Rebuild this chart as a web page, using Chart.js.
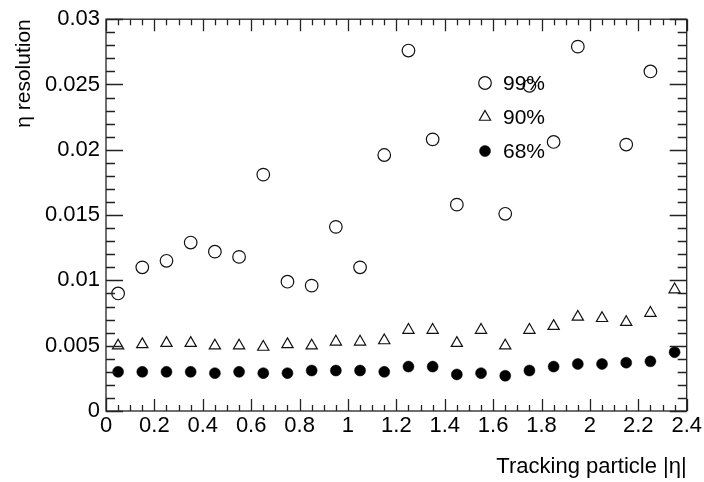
<!DOCTYPE html>
<html>
<head>
<meta charset="utf-8">
<script src="https://cdn.jsdelivr.net/npm/chart.js@4/dist/chart.umd.min.js"></script>
<style>
  html, body { margin: 0; padding: 0; background: #fff; }
  #wrap { width: 704px; height: 482px; }
</style>
</head>
<body>
<div id="wrap"><canvas id="myChart" width="704" height="482"></canvas></div>
<script>
// bin centres in |eta|
const etaBins = [0.05, 0.15, 0.25, 0.35, 0.45, 0.55, 0.65, 0.75, 0.85, 0.95, 1.05, 1.15,
                 1.25, 1.35, 1.45, 1.55, 1.65, 1.75, 1.85, 1.95, 2.05, 2.15, 2.25, 2.35];

// eta resolution per bin (null = off scale / not visible)
const res99 = [0.0090, 0.0110, 0.0115, 0.0129, 0.0122, 0.0118, 0.0181, 0.0099, 0.0096, 0.0141, 0.0110, 0.0196,
               0.0276, 0.0208, 0.0158, null, 0.0151, 0.0249, 0.0206, 0.0279, null, 0.0204, 0.0260, null];
const res90 = [0.0050, 0.0051, 0.0052, 0.0052, 0.0050, 0.0050, 0.0049, 0.0051, 0.0050, 0.0053, 0.0053, 0.0054,
               0.0062, 0.0062, 0.0052, 0.0062, 0.0050, 0.0062, 0.0065, 0.0072, 0.0071, 0.0068, 0.0075, 0.0093];
const res68 = [0.0030, 0.0030, 0.0030, 0.0030, 0.0029, 0.0030, 0.0029, 0.0029, 0.0031, 0.0031, 0.0031, 0.0030,
               0.0034, 0.0034, 0.0028, 0.0029, 0.0027, 0.0031, 0.0034, 0.0036, 0.0036, 0.0037, 0.0038, 0.0045];

const seriesLabels = ['99%', '90%', '68%'];

const xMin = 0, xMax = 2.4, xMajor = 0.2, xMinor = 0.05;
const yMin = 0, yMax = 0.03, yMajor = 0.005, yMinor = 0.001;

const FONT = '"Liberation Sans", Arial, Helvetica, sans-serif';

function toPoints(values) {
  return etaBins.map((x, i) => ({ x: x, y: values[i] }));
}

// ROOT style frame with inward ticks on all four sides
const frameTicks = {
  id: 'frameTicks',
  afterDraw(chart) {
    const { ctx, chartArea: a, scales: { x, y } } = chart;
    ctx.save();
    ctx.strokeStyle = '#222';
    ctx.lineWidth = 1.3;
    ctx.strokeRect(a.left, a.top, a.right - a.left, a.bottom - a.top);
    ctx.beginPath();
    const nx = Math.round((xMax - xMin) / xMinor);
    for (let i = 0; i <= nx; i++) {
      const v = xMin + i * xMinor;
      const px = Math.round(x.getPixelForValue(v)) + 0.5;
      const len = (i % Math.round(xMajor / xMinor) === 0) ? 12 : 6;
      ctx.moveTo(px, a.bottom); ctx.lineTo(px, a.bottom - len);
      ctx.moveTo(px, a.top); ctx.lineTo(px, a.top + len);
    }
    const ny = Math.round((yMax - yMin) / yMinor);
    for (let i = 0; i <= ny; i++) {
      const v = yMin + i * yMinor;
      const py = Math.round(y.getPixelForValue(v)) + 0.5;
      const len = (i % Math.round(yMajor / yMinor) === 0) ? 17 : 9;
      ctx.moveTo(a.left, py); ctx.lineTo(a.left + len, py);
      ctx.moveTo(a.right, py); ctx.lineTo(a.right - len, py);
    }
    ctx.stroke();
    ctx.restore();
  }
};

// legend drawn inside the frame, no box
const innerLegend = {
  id: 'innerLegend',
  afterDatasetsDraw(chart) {
    const { ctx } = chart;
    ctx.save();
    ctx.font = '21px ' + FONT;
    ctx.textBaseline = 'middle';
    chart.data.datasets.forEach((ds, i) => {
      const yy = 83 + i * 34;
      ctx.strokeStyle = ds.borderColor;
      ctx.fillStyle = ds.backgroundColor;
      ctx.lineWidth = ds.borderWidth;
      Chart.helpers.drawPoint(ctx, { pointStyle: ds.pointStyle, radius: ds.pointRadius, borderWidth: ds.borderWidth }, 485, yy);
      ctx.fillStyle = '#000';
      ctx.fillText(ds.label, 503, yy + 1);
    });
    ctx.restore();
  }
};

const ctx = document.getElementById('myChart');

new Chart(ctx, {
  type: 'scatter',
  data: {
    datasets: [
      {
        label: seriesLabels[0],
        data: toPoints(res99),
        pointStyle: 'circle',
        pointRadius: 6.3,
        borderColor: '#111',
        backgroundColor: 'rgba(255,255,255,0)',
        borderWidth: 1.2
      },
      {
        label: seriesLabels[1],
        data: toPoints(res90),
        pointStyle: 'triangle',
        pointRadius: 6.5,
        borderColor: '#111',
        backgroundColor: 'rgba(255,255,255,0)',
        borderWidth: 1.2
      },
      {
        label: seriesLabels[2],
        data: toPoints(res68),
        pointStyle: 'circle',
        pointRadius: 5.5,
        borderColor: '#000',
        backgroundColor: '#000',
        borderWidth: 0.5
      }
    ]
  },
  options: {
    responsive: false,
    animation: false,
    layout: { padding: { top: 16, right: 17, left: 0, bottom: 0 } },
    plugins: {
      legend: { display: false },
      tooltip: { enabled: false }
    },
    scales: {
      x: {
        type: 'linear',
        min: xMin,
        max: xMax,
        afterFit(scale) { scale.height = 71; },
        grid: { display: false, drawTicks: false },
        border: { display: false },
        ticks: {
          stepSize: xMajor,
          padding: 2,
          color: '#000',
          font: { family: FONT, size: 22 },
          maxRotation: 0,
          callback: v => String(+v.toFixed(2))
        },
        title: {
          display: true,
          text: 'Tracking particle |η|',
          align: 'end',
          color: '#000',
          font: { family: FONT, size: 22 },
          padding: { top: 0, bottom: 2 }
        }
      },
      y: {
        type: 'linear',
        min: yMin,
        max: yMax,
        afterFit(scale) { scale.width = 106; },
        grid: { display: false, drawTicks: false },
        border: { display: false },
        ticks: {
          stepSize: yMajor,
          padding: 6,
          color: '#000',
          font: { family: FONT, size: 22 },
          callback: v => String(+v.toFixed(3))
        },
        title: {
          display: true,
          text: 'η resolution',
          align: 'end',
          color: '#000',
          font: { family: FONT, size: 21 },
          padding: { top: 12, bottom: 0 }
        }
      }
    }
  },
  plugins: [frameTicks, innerLegend]
});
</script>
</body>
</html>
